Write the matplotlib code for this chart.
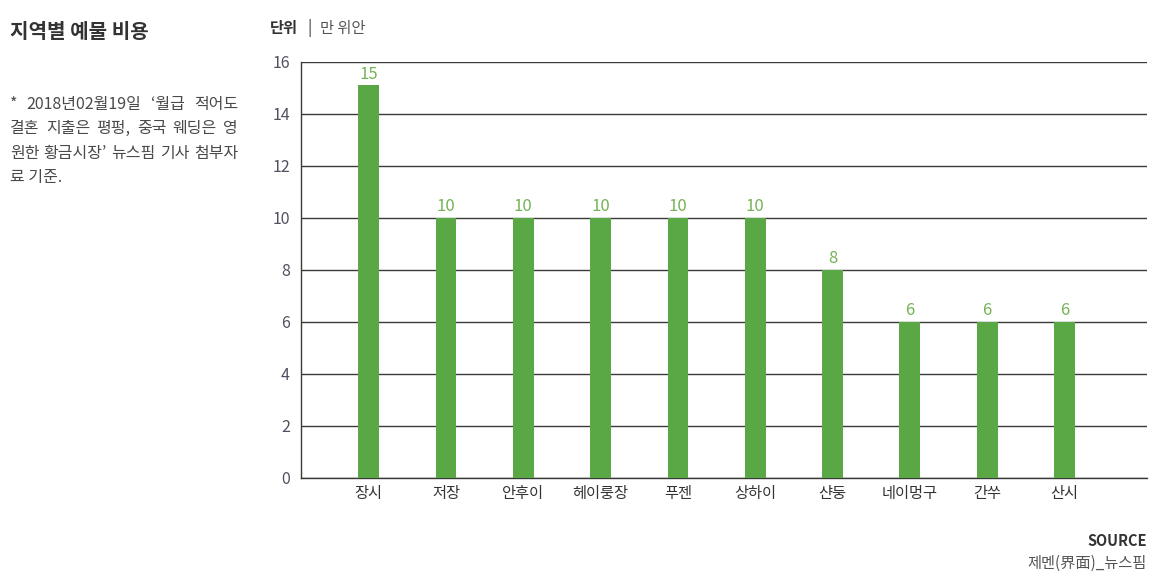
import matplotlib
matplotlib.use("Agg")
import matplotlib.pyplot as plt

plt.rcParams['font.family'] = ['Noto Sans CJK KR', 'DejaVu Sans']

regions = ["장시", "저장", "안후이", "헤이룽장", "푸젠", "상하이", "샨둥", "네이멍구", "간쑤", "산시"]
costs = [15.1, 10, 10, 10, 10, 10, 8, 6, 6, 6]
y_ticks = [0, 2, 4, 6, 8, 10, 12, 14, 16]

bar_color = "#5aa845"
label_color = "#74b356"
grid_color = "#3a3a3a"
text_color = "#4a4a4a"

W, H = 1157, 579
fig = plt.figure(figsize=(W / 100, H / 100), dpi=100)
ax = fig.add_axes([301 / W, 1 - 478 / H, (1147 - 301) / W, (478 - 62) / H])

x = range(len(regions))
ax.bar(x, costs, width=0.27, color=bar_color, zorder=3)
for xi, v in zip(x, costs):
    ax.text(xi, v + 0.1, str(int(round(v))), ha="center", va="bottom",
            fontsize=12, color=label_color)

ax.set_ylim(0, 16)
ax.set_xlim(-0.875, 9 + 1.066)
ax.set_yticks(y_ticks)
ax.set_yticklabels([str(t) for t in y_ticks], fontsize=11.5, color="#505060")
ax.set_xticks(list(x))
ax.set_xticklabels(regions, fontsize=11, color="#333333")
ax.tick_params(axis="x", length=0, pad=5)
ax.tick_params(axis="y", length=0, pad=8)

ax.grid(axis="y", color=grid_color, linewidth=1, zorder=0)
for s in ["top", "right"]:
    ax.spines[s].set_visible(False)
for s in ["left", "bottom"]:
    ax.spines[s].set_color(grid_color)
    ax.spines[s].set_linewidth(1)

# title
fig.text(10 / W, 1 - 32 / H, "지역별 예물 비용", fontsize=14.5, fontweight="bold",
         color="#333333", va="center", ha="left")

# note, justified between x=10 and x=238
note = ["* 2018년02월19일 ‘월급 적어도",
        "결혼 지출은 평펑, 중국 웨딩은 영",
        "원한 황금시장’ 뉴스핌 기사 첨부자",
        "료 기준."]
renderer = fig.canvas.get_renderer()
left_px, right_px = 10, 238
for i, line in enumerate(note):
    y = 1 - (104 + i * 24.5) / H
    words = line.split(" ")
    if i == len(note) - 1:
        fig.text(left_px / W, y, line, fontsize=11.5, color=text_color,
                 va="center", ha="left")
        continue
    objs = [fig.text(0, y, w, fontsize=11.5, color=text_color, va="center", ha="left")
            for w in words]
    widths = [o.get_window_extent(renderer).width for o in objs]
    gap = (right_px - left_px - sum(widths)) / (len(words) - 1)
    pos = left_px
    for o, w in zip(objs, widths):
        o.set_x(pos / W)
        pos += w + gap

fig.text(270 / W, 1 - 28 / H, "단위", fontsize=11, fontweight="bold",
         color="#333333", va="center", ha="left")
fig.text(307 / W, 1 - 28 / H, "|", fontsize=11,
         color="#333333", va="center", ha="left")
fig.text(320 / W, 1 - 28 / H, "만 위안", fontsize=11,
         color="#555555", va="center", ha="left")

fig.text(1147 / W, 1 - 541 / H, "SOURCE", fontsize=10.5, fontweight="bold",
         color="#333333", va="center", ha="right")
fig.text(1147 / W, 1 - 563 / H, "제멘(界面)_뉴스핌", fontsize=11,
         color="#555555", va="center", ha="right")

fig.savefig("out.png", dpi=100)
